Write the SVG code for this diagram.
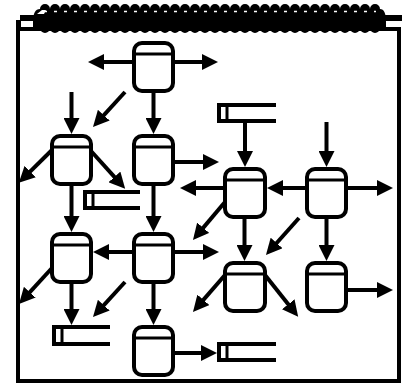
<svg xmlns="http://www.w3.org/2000/svg" width="402" height="385" viewBox="0 0 402 385">
<style>
.box{fill:#fff;stroke:#000;stroke-width:4}
.sep{stroke:#000;stroke-width:3}
.ds{fill:none;stroke:#000;stroke-width:4}
.dsi{stroke:#000;stroke-width:3}
.c line{stroke:#000;stroke-width:4;marker-end:url(#ah)}
</style>
<defs>
<marker id="ah" markerUnits="userSpaceOnUse" markerWidth="16" markerHeight="16" viewBox="0 0 16 16" refX="8" refY="8" orient="auto">
<path d="M0,0 L16,8 L0,16 z" fill="#000"/>
</marker>
</defs>
<rect width="402" height="385" fill="#fff"/>
<g id="frame">
<rect x="18" y="29" width="381" height="352" fill="#fff" stroke="#000" stroke-width="4"/>
<rect x="16" y="20" width="5" height="10" fill="#000"/>
<rect x="20" y="15" width="382" height="6" fill="#000"/>
<path fill="#000" d="M33,22 Q33,9 40,9 a5,5 0 0 1 10,0 a5,5 0 0 1 10,0 a5,5 0 0 1 10,0 a5,5 0 0 1 10,0 a5,5 0 0 1 10,0 a5,5 0 0 1 10,0 a5,5 0 0 1 10,0 a5,5 0 0 1 10,0 a5,5 0 0 1 10,0 a5,5 0 0 1 10,0 a5,5 0 0 1 10,0 a5,5 0 0 1 10,0 a5,5 0 0 1 10,0 a5,5 0 0 1 10,0 a5,5 0 0 1 10,0 a5,5 0 0 1 10,0 a5,5 0 0 1 10,0 a5,5 0 0 1 10,0 a5,5 0 0 1 10,0 a5,5 0 0 1 10,0 a5,5 0 0 1 10,0 a5,5 0 0 1 10,0 a5,5 0 0 1 10,0 a5,5 0 0 1 10,0 a5,5 0 0 1 10,0 a5,5 0 0 1 10,0 a5,5 0 0 1 10,0 a5,5 0 0 1 10,0 a5,5 0 0 1 10,0 a5,5 0 0 1 10,0 a5,5 0 0 1 10,0 a5,5 0 0 1 10,0 a5,5 0 0 1 10,0 a5,5 0 0 1 10,0 Q386,9 386,22 L386,28 L380,28 a5,5 0 0 1 -10,0 a5,5 0 0 1 -10,0 a5,5 0 0 1 -10,0 a5,5 0 0 1 -10,0 a5,5 0 0 1 -10,0 a5,5 0 0 1 -10,0 a5,5 0 0 1 -10,0 a5,5 0 0 1 -10,0 a5,5 0 0 1 -10,0 a5,5 0 0 1 -10,0 a5,5 0 0 1 -10,0 a5,5 0 0 1 -10,0 a5,5 0 0 1 -10,0 a5,5 0 0 1 -10,0 a5,5 0 0 1 -10,0 a5,5 0 0 1 -10,0 a5,5 0 0 1 -10,0 a5,5 0 0 1 -10,0 a5,5 0 0 1 -10,0 a5,5 0 0 1 -10,0 a5,5 0 0 1 -10,0 a5,5 0 0 1 -10,0 a5,5 0 0 1 -10,0 a5,5 0 0 1 -10,0 a5,5 0 0 1 -10,0 a5,5 0 0 1 -10,0 a5,5 0 0 1 -10,0 a5,5 0 0 1 -10,0 a5,5 0 0 1 -10,0 a5,5 0 0 1 -10,0 a5,5 0 0 1 -10,0 a5,5 0 0 1 -10,0 a5,5 0 0 1 -10,0 a5,5 0 0 1 -10,0 L33,28 z"/>
<line x1="44" y1="11.5" x2="376" y2="11.5" stroke="#fff" stroke-width="1.5" stroke-dasharray="3 7"/>
<path d="M37,14 L42,10 L46,10 L44,14 z" fill="#fff"/>
</g>
<g id="nodes">
<g id="n1"><rect class="box" x="134" y="43" width="39" height="48" rx="8"/><line class="sep" x1="134" y1="54" x2="173" y2="54"/></g>
<g id="n2"><rect class="box" x="52" y="136" width="39" height="48" rx="8"/><line class="sep" x1="52" y1="147" x2="91" y2="147"/></g>
<g id="n3"><rect class="box" x="134" y="136" width="39" height="48" rx="8"/><line class="sep" x1="134" y1="147" x2="173" y2="147"/></g>
<g id="n4"><rect class="box" x="225" y="169" width="40" height="48" rx="8"/><line class="sep" x1="225" y1="180" x2="265" y2="180"/></g>
<g id="n5"><rect class="box" x="307" y="169" width="39" height="48" rx="8"/><line class="sep" x1="307" y1="180" x2="346" y2="180"/></g>
<g id="n6"><rect class="box" x="52" y="234" width="39" height="48" rx="8"/><line class="sep" x1="52" y1="245" x2="91" y2="245"/></g>
<g id="n7"><rect class="box" x="134" y="234" width="39" height="48" rx="8"/><line class="sep" x1="134" y1="245" x2="173" y2="245"/></g>
<g id="n8"><rect class="box" x="134" y="327" width="39" height="48" rx="8"/><line class="sep" x1="134" y1="338" x2="173" y2="338"/></g>
<g id="n9"><rect class="box" x="225" y="263" width="40" height="48" rx="8"/><line class="sep" x1="225" y1="274" x2="265" y2="274"/></g>
<g id="n10"><rect class="box" x="307" y="263" width="39" height="48" rx="8"/><line class="sep" x1="307" y1="274" x2="346" y2="274"/></g>
<g id="d1"><path class="ds" d="M276,105 H219 V121 H276"/><line class="dsi" x1="227" y1="105" x2="227" y2="121"/></g>
<g id="d2"><path class="ds" d="M140,192 H85 V208 H140"/><line class="dsi" x1="93" y1="192" x2="93" y2="208"/></g>
<g id="d3"><path class="ds" d="M110,327 H54 V344 H110"/><line class="dsi" x1="62" y1="327" x2="62" y2="344"/></g>
<g id="d4"><path class="ds" d="M276,344 H219 V360 H276"/><line class="dsi" x1="227" y1="344" x2="227" y2="360"/></g>
</g>
<g id="connectors" class="c">
<line x1="132" y1="62" x2="96" y2="62"/>
<line x1="175" y1="62" x2="210" y2="62"/>
<line x1="153.5" y1="91" x2="153.5" y2="126"/>
<line x1="125" y1="92" x2="98.4" y2="121.1"/>
<line x1="71.5" y1="92" x2="71.5" y2="126"/>
<line x1="52" y1="150" x2="24.5" y2="177.2"/>
<line x1="91" y1="151" x2="119.8" y2="182.9"/>
<line x1="175" y1="162" x2="211" y2="162"/>
<line x1="223" y1="188" x2="188" y2="188"/>
<line x1="71.5" y1="186" x2="71.5" y2="224"/>
<line x1="153.5" y1="186" x2="153.5" y2="224"/>
<line x1="132" y1="252" x2="101" y2="252"/>
<line x1="175" y1="252" x2="211" y2="252"/>
<line x1="52" y1="268" x2="24.4" y2="298.1"/>
<line x1="71.5" y1="283" x2="71.5" y2="317"/>
<line x1="125" y1="282" x2="98.4" y2="311.1"/>
<line x1="153.5" y1="283" x2="153.5" y2="317"/>
<line x1="225" y1="202" x2="198.1" y2="233.9"/>
<line x1="225" y1="275" x2="198.2" y2="305.9"/>
<line x1="265" y1="275" x2="293.2" y2="310.6"/>
<line x1="299" y1="218" x2="271.3" y2="249"/>
<line x1="244.5" y1="219" x2="244.5" y2="253"/>
<line x1="326.5" y1="219" x2="326.5" y2="253"/>
<line x1="348" y1="290" x2="385" y2="290"/>
<line x1="175" y1="353" x2="209" y2="353"/>
<line x1="245" y1="123" x2="245" y2="159"/>
<line x1="326.5" y1="122" x2="326.5" y2="159"/>
<line x1="305" y1="188" x2="275" y2="188"/>
<line x1="348" y1="188" x2="385" y2="188"/>
</g>
</svg>
